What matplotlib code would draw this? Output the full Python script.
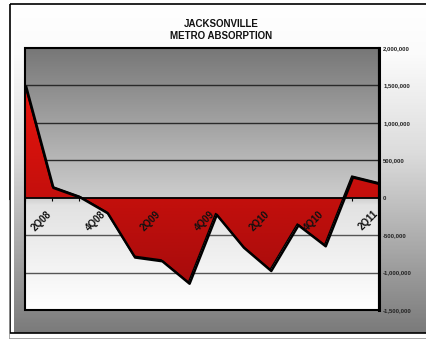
"""Jacksonville metro absorption - Excel style area chart."""

import matplotlib
matplotlib.use("Agg")
import matplotlib.pyplot as plt
import matplotlib.transforms as mtransforms
import numpy as np
from matplotlib.colors import LinearSegmentedColormap
from matplotlib.patches import Polygon, Rectangle
from matplotlib.ticker import FuncFormatter, MultipleLocator

plt.rcParams["font.family"] = ["Liberation Sans", "DejaVu Sans"]

# data
quarters = ["1Q08", "2Q08", "3Q08", "4Q08", "1Q09", "2Q09", "3Q09",
            "4Q09", "1Q10", "2Q10", "3Q10", "4Q10", "1Q11", "2Q11"]
absorption = [1500000, 150000, 20000, -190000, -780000, -830000, -1130000,
              -210000, -650000, -960000, -350000, -630000, 290000, 200000]
shown_labels = ["2Q08", "4Q08", "2Q09", "4Q09", "2Q10", "4Q10", "2Q11"]
title = "JACKSONVILLE\nMETRO ABSORPTION"

W, H = 426, 339
fig = plt.figure(figsize=(W / 100, H / 100), dpi=100)
fig.patch.set_facecolor("white")

# outer chart box background: white at the top fading to gray at the bottom
outer_cmap = LinearSegmentedColormap.from_list(
    "outer", [(0, "#ffffff"), (0.15, "#fbfbfb"), (0.45, "#dcdcdc"), (1, "#7a7a7a")])
canvas = np.ones((H, W, 3))
rows = np.arange(H)
frac = np.clip((rows - 4.5) / (333 - 4.5), 0, 1)
row_cols = outer_cmap(frac)[:, :3]
canvas[5:333, 14:, :] = row_cols[5:333, None, :]
fig.figimage(canvas, xo=0, yo=0, origin="upper", zorder=-1)

bg = fig.add_axes([0, 0, 1, 1])
bg.set_xlim(0, W)
bg.set_ylim(H, 0)
bg.axis("off")
bg.patch.set_visible(False)
bg.add_patch(Rectangle((10, 4.3), W, 329, fill=False, edgecolor="black", lw=1.2, zorder=2))
bg.plot([8.5, 8.5], [200, 337.5], color="#999999", lw=0.6)
bg.plot([8.5, W], [337.5, 337.5], color="#999999", lw=0.6)

# title
bg.text(221, 30, title, ha="center", va="center", fontsize=7,
        fontweight="bold", linespacing=1.25, color="#111111")

# plot area
ax = fig.add_axes([25 / W, (H - 310) / H, (379 - 25) / W, (310 - 48) / H])
ax.patch.set_visible(False)
grad = np.linspace(0, 1, 256).reshape(-1, 1)
plot_cmap = LinearSegmentedColormap.from_list(
    "plot", [(0, "#777777"), (0.57, "#cdcdcd"), (0.6, "#e2e2e2"), (1, "#ffffff")])
ax.imshow(grad, cmap=plot_cmap, aspect="auto",
          extent=(0, len(quarters) - 1, -1500000, 2000000), zorder=0)

# red area with gradient fill
x = np.arange(len(quarters))
verts = [(0, 0)] + list(zip(x, absorption)) + [(x[-1], 0)]
poly = Polygon(verts, closed=True, facecolor="none", edgecolor="none")
ax.add_patch(poly)
red_cmap = LinearSegmentedColormap.from_list("red", ["#e8140c", "#a80c0c"])
img = ax.imshow(grad, cmap=red_cmap, aspect="auto",
                extent=(0, len(quarters) - 1, min(absorption), max(absorption)), zorder=2)
img.set_clip_path(poly)

ax.set_xlim(0, len(quarters) - 1)
ax.set_ylim(-1500000, 2000000)

# gridlines
for v in np.arange(-1000000, 2000000, 500000):
    if v == 0:
        continue
    ax.axhline(v, color="#2a2a2a" if v > 0 else "#555555", lw=1, zorder=1)

# outline with a drop shadow
shadow = mtransforms.offset_copy(ax.transData, fig=fig, x=1.2, y=-1.4, units="dots")
ax.plot(x, absorption, color="black", lw=1.8, zorder=2.5, transform=shadow)
ax.plot(x, absorption, color="black", lw=1, zorder=3)

# zero axis with ticks
ax.spines["bottom"].set_position(("data", 0))
ax.spines["bottom"].set_linewidth(1.3)
ax.spines["bottom"].set_zorder(4)
for s in ["top", "left", "right"]:
    ax.spines[s].set_visible(False)
ax.add_patch(Rectangle((0, 0), 1, 1, transform=ax.transAxes, fill=False,
                       edgecolor="black", lw=1.5, zorder=5, clip_on=False))
ax.plot([1, 1], [0, 1], transform=ax.transAxes, color="black", lw=2.2,
        zorder=5, clip_on=False)
ax.set_xticks(x)
ax.set_xticklabels([])
ax.tick_params(axis="x", direction="out", length=2.5, width=0.8)

for i, q in enumerate(quarters):
    if q in shown_labels:
        ax.annotate(q, xy=(i, 0), xytext=(-1.5, -10.5), textcoords="offset points",
                    ha="right", va="center", rotation=45, rotation_mode="anchor",
                    fontsize=7, fontweight="bold", color="#111111", zorder=6)

# y axis on the right
ax.yaxis.tick_right()
ax.yaxis.set_major_locator(MultipleLocator(500000))
ax.yaxis.set_major_formatter(FuncFormatter(lambda v, p: f"{int(v):,}"))
ax.tick_params(axis="y", length=0, pad=3, labelsize=4.3, labelcolor="#222222")
for t in ax.get_yticklabels():
    t.set_fontweight("bold")

fig.savefig("out.png", dpi=100)
